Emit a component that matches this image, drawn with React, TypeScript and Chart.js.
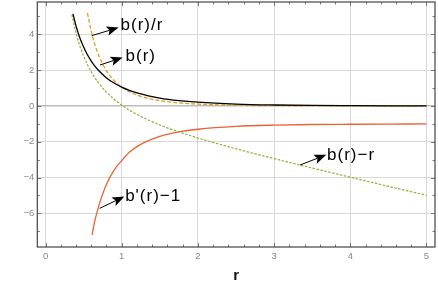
import React, { useEffect, useRef } from "react";
import { Chart, registerables } from "chart.js";

Chart.register(...registerables);

// ---- data ----
const rB = [0.36, 0.4, 0.45, 0.5, 0.55, 0.6, 0.65, 0.7, 0.8, 0.9, 1.0, 1.1, 1.2, 1.35, 1.5, 1.75, 2.0, 2.5, 3.0, 3.5, 4.0, 4.5, 5.0];
const bVals = [5.15, 4.48, 3.81, 3.29, 2.86, 2.51, 2.21, 1.97, 1.57, 1.28, 1.05, 0.87, 0.73, 0.57, 0.44, 0.3, 0.21, 0.106, 0.056, 0.03, 0.017, 0.009, 0.005];

const rBoverR = [0.55, 0.6, 0.65, 0.7, 0.75, 0.8, 0.85, 0.9, 1.0, 1.1, 1.2, 1.35, 1.5, 1.75, 2.0, 2.5, 3.0, 4.0, 5.0];
const bOverRVals = [5.2, 4.18, 3.4, 2.81, 2.35, 1.96, 1.67, 1.42, 1.05, 0.79, 0.61, 0.42, 0.3, 0.17, 0.105, 0.042, 0.019, 0.004, 0.001];

const rBminusR = [0.345, 0.4, 0.45, 0.5, 0.55, 0.6, 0.65, 0.7, 0.8, 0.9, 1.0, 1.1, 1.2, 1.35, 1.5, 1.75, 2.0, 2.5, 3.0, 3.5, 4.0, 4.5, 5.0];
const bMinusRVals = [5.1, 4.08, 3.36, 2.79, 2.31, 1.91, 1.56, 1.27, 0.77, 0.38, 0.05, -0.23, -0.47, -0.78, -1.06, -1.45, -1.79, -2.39, -2.94, -3.47, -3.98, -4.49, -4.99];

const rDeriv = [0.61, 0.65, 0.7, 0.75, 0.8, 0.9, 1.0, 1.1, 1.2, 1.35, 1.5, 1.75, 2.0, 2.5, 3.0, 3.5, 4.0, 4.5, 5.0];
const derivVals = [-7.2, -6.37, -5.57, -4.92, -4.37, -3.58, -3.05, -2.59, -2.27, -1.94, -1.7, -1.45, -1.3, -1.14, -1.07, -1.036, -1.02, -1.01, -1.005];

const xTicks = [0, 1, 2, 3, 4, 5];
const yTicks = [-6, -4, -2, 0, 2, 4];

// annotations (data coordinates)
const labelTexts = ["b(r)/r", "b(r)", "b'(r)\u22121", "b(r)\u2212r"];
const arrowFromR = [0.606, 0.715, 0.711, 3.34];
const arrowFromV = [3.93, 2.29, -5.72, -3.3];
const arrowToR = [0.96, 1.012, 1.035, 3.685];
const arrowToV = [4.38, 2.71, -5.06, -2.73];
const labelR = [0.985, 1.05, 1.045, 3.695];
const labelV = [4.49, 2.75, -5.03, -2.74];

const toXY = (xs: number[], ys: number[]) => xs.map((x, i) => ({ x, y: ys[i] }));
const fmt = (v: number) => (v < 0 ? "\u2212" + Math.abs(v) : String(v));

const framePlugin = {
  id: "framePlugin",
  afterDatasetsDraw(chart: any) {
    const { ctx, chartArea: a, scales } = chart;
    const xs = scales.x;
    const ys = scales.y;
    ctx.save();
    // annotations
    ctx.fillStyle = "#000";
    ctx.strokeStyle = "#000";
    ctx.lineWidth = 1;
    for (let i = 0; i < labelTexts.length; i++) {
      const x1 = xs.getPixelForValue(arrowFromR[i]);
      const y1 = ys.getPixelForValue(arrowFromV[i]);
      const x2 = xs.getPixelForValue(arrowToR[i]);
      const y2 = ys.getPixelForValue(arrowToV[i]);
      const ang = Math.atan2(y2 - y1, x2 - x1);
      const hl = 12, hw = 4.8, nb = 2.5;
      const c = Math.cos(ang), s = Math.sin(ang);
      const bx = x2 - hl * c;
      const by = y2 - hl * s;
      ctx.beginPath();
      ctx.moveTo(x1, y1);
      ctx.lineTo(x2 - (hl - nb) * c, y2 - (hl - nb) * s);
      ctx.stroke();
      const nx = -s, ny = c;
      ctx.beginPath();
      ctx.moveTo(x2, y2);
      ctx.lineTo(bx + nx * hw, by + ny * hw);
      ctx.lineTo(x2 - (hl - nb) * c, y2 - (hl - nb) * s);
      ctx.lineTo(bx - nx * hw, by - ny * hw);
      ctx.closePath();
      ctx.fill();
      ctx.font = "17px 'Liberation Sans', Arial, sans-serif";
      (ctx as any).letterSpacing = "1px";
      ctx.textAlign = "left";
      ctx.textBaseline = "middle";
      ctx.fillText(labelTexts[i], xs.getPixelForValue(labelR[i]), ys.getPixelForValue(labelV[i]));
      (ctx as any).letterSpacing = "0px";
    }
    // ticks on all sides
    ctx.strokeStyle = "#777";
    ctx.lineWidth = 1;
    ctx.beginPath();
    const xMinor: number[] = [];
    for (let k = 0; k <= 25; k++) xMinor.push(k * 0.2);
    xMinor.forEach((v) => {
      const major = xTicks.some((t) => Math.abs(t - v) < 1e-6);
      const len = major ? 4 : 2.5;
      const px = Math.round(xs.getPixelForValue(v)) + 0.5;
      ctx.moveTo(px, a.bottom);
      ctx.lineTo(px, a.bottom - len);
      ctx.moveTo(px, a.top);
      ctx.lineTo(px, a.top + len);
    });
    for (let v = -7; v <= 5; v++) {
      const major = yTicks.indexOf(v) >= 0;
      const len = major ? 4 : 2.5;
      const py = Math.round(ys.getPixelForValue(v)) + 0.5;
      ctx.moveTo(a.left, py);
      ctx.lineTo(a.left + len, py);
      ctx.moveTo(a.right, py);
      ctx.lineTo(a.right - len, py);
    }
    ctx.stroke();
    // frame
    ctx.strokeStyle = "#444";
    ctx.lineWidth = 1.2;
    ctx.strokeRect(a.left, a.top, a.right - a.left, a.bottom - a.top);
    ctx.restore();
  },
};

export default function App() {
  const ref = useRef<HTMLCanvasElement | null>(null);
  useEffect(() => {
    document.body.style.margin = "0";
    if (!ref.current) return;
    const chart = new Chart(ref.current, {
      type: "line",
      data: {
        datasets: [
          {
            label: "b(r)",
            data: toXY(rB, bVals),
            borderColor: "#000000",
            borderWidth: 1.3,
            pointRadius: 0,
            cubicInterpolationMode: "monotone",
          },
          {
            label: "b(r)/r",
            data: toXY(rBoverR, bOverRVals),
            borderColor: "#E19C24",
            borderWidth: 1.3,
            borderDash: [4, 2],
            pointRadius: 0,
            cubicInterpolationMode: "monotone",
          },
          {
            label: "b(r)-r",
            data: toXY(rBminusR, bMinusRVals),
            borderColor: "#8FB032",
            borderWidth: 1.2,
            borderDash: [2.5, 1.5],
            pointRadius: 0,
            cubicInterpolationMode: "monotone",
          },
          {
            label: "b'(r)-1",
            data: toXY(rDeriv, derivVals),
            borderColor: "#EB6235",
            borderWidth: 1.3,
            pointRadius: 0,
            cubicInterpolationMode: "monotone",
          },
        ],
      },
      options: {
        animation: false,
        responsive: false,
        layout: { padding: { top: 2, right: 3, left: 0, bottom: 0 } },
        plugins: { legend: { display: false }, tooltip: { enabled: false } },
        scales: {
          x: {
            type: "linear",
            min: -0.108,
            max: 5.112,
            afterFit: (s: any) => {
              s.height = 38;
              s.paddingLeft = 0;
              s.paddingRight = 0;
              s.paddingTop = 0;
              s.paddingBottom = 0;
            },
            afterBuildTicks: (s: any) => {
              s.ticks = xTicks.map((v) => ({ value: v }));
            },
            ticks: {
              includeBounds: false,
              color: "#888",
              font: { family: "'Liberation Sans', Arial, sans-serif", size: 9.5 },
              padding: 4,
              maxRotation: 0,
              callback: (v: any) => fmt(Number(v)),
            },
            grid: { color: "#d8d8d8", lineWidth: 1, drawTicks: false },
            border: { display: false },
            title: {
              display: true,
              text: "r",
              color: "#111",
              font: { family: "'Liberation Sans', Arial, sans-serif", size: 15, weight: "bold" },
              padding: { top: 0, bottom: 0 },
            },
          },
          y: {
            type: "linear",
            min: -7.88,
            max: 5.81,
            afterFit: (s: any) => {
              s.width = 37.3;
              s.paddingLeft = 0;
              s.paddingRight = 0;
              s.paddingTop = 0;
              s.paddingBottom = 0;
            },
            afterBuildTicks: (s: any) => {
              s.ticks = yTicks.map((v) => ({ value: v }));
            },
            ticks: {
              includeBounds: false,
              color: "#888",
              font: { family: "'Liberation Sans', Arial, sans-serif", size: 9.5 },
              padding: 3,
              callback: (v: any) => fmt(Number(v)),
            },
            grid: {
              color: (c: any) => (c.tick && c.tick.value === 0 ? "#bdbdbd" : "#d8d8d8"),
              lineWidth: (c: any) => (c.tick && c.tick.value === 0 ? 1.4 : 1),
              drawTicks: false,
            },
            border: { display: false },
          },
        },
      },
      plugins: [framePlugin],
    } as any);
    return () => chart.destroy();
  }, []);
  return (
    <div style={{ width: 438, height: 285 }}>
      <canvas ref={ref} width={438} height={285} style={{ display: "block" }} />
    </div>
  );
}
